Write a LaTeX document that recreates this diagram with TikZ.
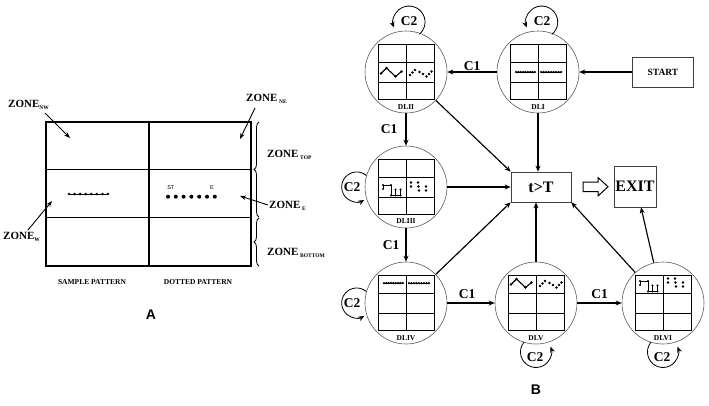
\documentclass[tikz,border=0pt]{standalone}
\usepackage{fontspec}
\setmainfont{Liberation Serif}
\newfontfamily\arialf{Liberation Sans}
\usetikzlibrary{arrows.meta,decorations.pathreplacing,calc}
\newcommand\fs[1]{\fontsize{#1}{#1}\selectfont}
\newcommand\sbs[1]{\raisebox{-2pt}{\fs{5.5}#1}}
\newcommand\dlgrid[1]{%
  \begin{scope}[shift={(#1.center)}]
    \draw[gridl] (-28,-28) rectangle (28,27);
    \draw[gridl] (0,-28) -- (0,27) (-28,-10) -- (28,-10) (-28,10) -- (28,10);
  \end{scope}}
\newcommand\patlines[2]{%
  \begin{scope}[shift={($(#1.center)+(0,#2)$)}]
    \draw[line width=1pt] (-22,0) -- (-3,0) (3,0) -- (23,0);
    \foreach \i in {0,...,8} \fill (-22+\i*2.35,0) circle (1.25pt);
    \foreach \i in {0,...,8} \fill (3+\i*2.5,0) circle (1.25pt);
  \end{scope}}
\newcommand\patzig[2]{%
  \begin{scope}[shift={($(#1.center)+(0,#2)$)}]
    \draw[line width=1.1pt] (-25,1.5) -- (-19.5,-4) -- (-10.5,4.5) -- (-4.5,-0.5);
    \foreach \p in {(-25,1.5),(-19.5,-4),(-10.5,4.5),(-4.5,-0.5)} \fill \p circle (1.4pt);
    \foreach \p in {(4,3),(6.5,0.5),(9,-2),(13.5,0),(17,2),(20.5,4.5),(23,2),(25.5,-0.5)} \fill \p circle (1.3pt);
  \end{scope}}
\newcommand\patstair[2]{%
  \begin{scope}[shift={($(#1.center)+(0,#2)$)}]
    \draw[line width=1pt] (-23,2) -- (-23,-2) -- (-15,-2) -- (-15,8.5) -- (-5.5,8.5) -- (-5.5,2.5) (-10.5,8.5) -- (-10.5,2.5);
    \foreach \p in {(-23,2),(-23,-2),(-15,-2),(-15,8.5),(-10.5,2.5),(-5.5,2.5),(-10.5,8.5),(-5.5,8.5)} \fill \p circle (1.2pt);
    \foreach \p in {(5,-4.5),(5,-0.5),(12,-4.5),(12.5,-0.5),(13,3.5),(20,-0.5),(20,3.5)} \fill \p circle (1.4pt);
  \end{scope}}
\begin{document}
\begin{tikzpicture}[x=1pt,y=-1pt,
  gridl/.style={line width=0.9pt},
  arr/.style={-{Stealth[length=6pt,width=5pt]}, line width=1.15pt},
  thinarr/.style={-{Stealth[length=6pt,width=4.5pt]}, line width=0.9pt},
  dl/.style={circle, draw=black!65, line width=0.6pt, minimum size=82pt, inner sep=0pt},
  boxn/.style={draw=black!75, line width=0.7pt, inner sep=0pt},
  clab/.style={font=\bfseries\fs{13.5}, inner sep=1pt},
  dllab/.style={font=\bfseries\fs{7.5}, inner sep=0pt},
  zlab/.style={font=\bfseries\fs{11}, inner sep=0pt, anchor=west},
  plab/.style={font=\bfseries\fs{7.5}, inner sep=0pt},
  panlab/.style={font=\arialf\bfseries\fs{14}, inner sep=0pt}
]
\useasboundingbox (0,0) rectangle (709,405);
% ---------------- Panel A ----------------
\draw[line width=1.1pt] (46,122) rectangle (251,266);
\draw[line width=1.1pt] (149,122) -- (149,266) (46,169.5) -- (251,169.5) (46,217.5) -- (251,217.5);
\draw[line width=1pt] (69,194) -- (108,194);
\foreach \i in {0,...,7} \fill (69+\i*5.57,194) circle (1.4pt);
\foreach \i in {0,...,6} \fill (168+\i*7.8,196.7) circle (2pt);
\node[font=\arialf\fs{5.5}, inner sep=0pt] (st) at (171,188) {ST};
\node[font=\arialf\fs{5.5}, inner sep=0pt] (ee) at (212,188) {E};
\node[zlab] (znw) at (8,105) {ZONE\sbs{NW}};
\node[zlab] (zne) at (246,99) {ZONE\,\sbs{NE}};
\node[zlab] (ztop) at (267,155) {ZONE\,\sbs{TOP}};
\node[zlab] (ze) at (269,206) {ZONE\,\sbs{E}};
\node[zlab] (zw) at (3,237) {ZONE\sbs{W}};
\node[zlab] (zbot) at (267,253) {ZONE\,\sbs{BOTTOM}};
\coordinate (pnw) at (70,138);
\coordinate (pne) at (240,139);
\coordinate (pe) at (240,196);
\coordinate (pw) at (52,201);
\draw[thinarr] (45,113) -- (pnw);
\draw[thinarr] (255,108) -- (pne);
\draw[thinarr] (268,205) -- (pe);
\draw[thinarr] (28,230) -- (pw);
\draw[line width=0.8pt, decorate, decoration={brace, amplitude=5pt, mirror}] (259,122) -- (259,217);
\draw[line width=0.8pt, decorate, decoration={brace, amplitude=5pt, mirror}] (259,218) -- (259,266);
\node[plab] (sp) at (92,282) {SAMPLE PATTERN};
\node[plab] (dp) at (198,282) {DOTTED PATTERN};
\node[panlab] (A) at (151,315) {A};
% ---------------- Panel B ----------------
\node[dl] (dl1) at (538,72) {};
\node[dl] (dl2) at (406,72) {};
\node[dl] (dl3) at (406,187) {};
\node[dl] (dl4) at (406,303) {};
\node[dl] (dl5) at (536,303) {};
\node[dl] (dl6) at (663,303) {};
\foreach \n in {dl1,dl2,dl3,dl4,dl5,dl6} {\dlgrid{\n}}
\patlines{dl1}{0}
\patzig{dl2}{0}
\patstair{dl3}{0}
\patlines{dl4}{-20}
\patzig{dl5}{-20}
\patstair{dl6}{-20}
\node[dllab] (l1) at ($(dl1.center)+(0,35)$) {DLI};
\node[dllab] (l2) at ($(dl2.center)+(0,35)$) {DLII};
\node[dllab] (l3) at ($(dl3.center)+(0,34)$) {DLIII};
\node[dllab] (l4) at ($(dl4.center)+(0,35)$) {DLIV};
\node[dllab] (l5) at ($(dl5.center)+(0,35)$) {DLV};
\node[dllab] (l6) at ($(dl6.center)+(0,35)$) {DLVI};
\node[boxn, minimum width=61pt, minimum height=30pt, font=\bfseries\fs{9.5}] (start) at (663,72) {START};
\node[boxn, minimum width=60pt, minimum height=30pt, font=\bfseries\fs{16}] (tT) at (541,187) {t>T};
\node[boxn, minimum width=42pt, minimum height=41pt, font=\bfseries\fs{16}] (exit) at (635,186.5) {EXIT};
\draw[line width=1pt, fill=white] (583,182) -- (598,182) -- (598,177.5) -- (608,186.7) -- (598,196) -- (598,191.5) -- (583,191.5) -- cycle;
% connectors
\draw[arr] (start.west) -- (dl1);
\draw[arr] (dl1) -- node[clab, above] {C1} (dl2);
\draw[arr] (dl2) -- node[clab, left=7pt] {C1} (dl3);
\draw[arr] (dl3) -- node[clab, left=5pt] {C1} (dl4);
\draw[arr] (dl4) -- node[clab, pos=0.42, above=3pt] {C1} (dl5);
\draw[arr] (dl5) -- node[clab, above=3pt] {C1} (dl6);
\draw[arr] (dl2) -- (tT.north west);
\draw[arr] (dl1) -- (dl1 |- tT.north);
\draw[arr] (dl3) -- (tT.west);
\draw[arr] (dl4) -- (tT.south west);
\draw[arr] (dl5) -- (dl5 |- tT.south);
\draw[arr] (dl6) -- (tT.south east);
\draw[arr] (dl6) -- ([xshift=6pt]exit.south);
% C2 self loops
\draw[arr, line width=0.8pt] ($(dl2.center)+(13.3,-37.7)$) arc[start angle=50, end angle=-200, radius=16];
\node[clab] (c2a) at ($(dl2.center)+(3,-51)$) {C2};
\draw[arr, line width=0.8pt] ($(dl1.center)+(14,-37.7)$) arc[start angle=50, end angle=-200, radius=16];
\node[clab] (c2b) at ($(dl1.center)+(4,-51)$) {C2};
\draw[arr, line width=0.8pt] ($(dl3.center)+(-39.7,-11.5)$) arc[start angle=-50, end angle=-300, radius=15];
\node[clab] (c2c) at ($(dl3.center)+(-54,0)$) {C2};
\draw[arr, line width=0.8pt] ($(dl4.center)+(-39.7,-11.5)$) arc[start angle=-50, end angle=-300, radius=15];
\node[clab] (c2d) at ($(dl4.center)+(-54,0)$) {C2};
\draw[arr, line width=0.8pt] ($(dl5.center)+(-11.9,39)$) arc[start angle=220, end angle=-20, radius=15.5];
\node[clab] (c2e) at ($(dl5.center)+(-1,54)$) {C2};
\draw[arr, line width=0.8pt] ($(dl6.center)+(-11.9,39)$) arc[start angle=220, end angle=-20, radius=15.5];
\node[clab] (c2f) at ($(dl6.center)+(-1,54)$) {C2};
\node[panlab] (B) at (536,390) {B};
\end{tikzpicture}
\end{document}
